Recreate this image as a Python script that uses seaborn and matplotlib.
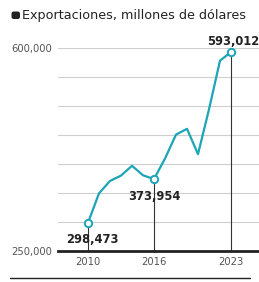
import matplotlib
matplotlib.use("Agg")
import matplotlib.pyplot as plt
import seaborn as sns
import pandas as pd
from matplotlib.lines import Line2D
from matplotlib.patches import FancyBboxPatch

years = list(range(2010, 2024))
exports = [298473, 349433, 370770, 380015, 396912, 380550, 373954,
           409401, 450685, 460604, 416999, 494225, 578193, 593012]
highlight_years = [2010, 2016, 2023]
highlight_labels = ["298,473", "373,954", "593,012"]
ytick_vals = [250000, 600000]
ytick_labels = ["250,000", "600,000"]
grid_vals = [300000, 350000, 400000, 450000, 500000, 550000, 600000]
title = "Exportaciones, millones de dólares"

df = pd.DataFrame({"year": years, "value": exports})
teal = "#1ba5b6"

sns.set_theme(style="white")
plt.rcParams['font.family'] = ['DejaVu Sans']

fig = plt.figure(figsize=(2.59, 2.82), dpi=100)
ax = fig.add_axes([58/259, 31/282, 201/259, 203/282])

for g in grid_vals:
    ax.axhline(g, color="#cfcfcf", lw=0.8, zorder=0)

sns.lineplot(data=df, x="year", y="value", ax=ax, color=teal, lw=1.6, zorder=3)

hv = [exports[years.index(y)] for y in highlight_years]
for y, v in zip(highlight_years, hv):
    ax.plot([y, y], [250000, v], color="#333333", lw=0.8, zorder=2, clip_on=False)
ax.scatter(highlight_years, hv, s=28, facecolor="white", edgecolor=teal,
           linewidth=1.4, zorder=4, clip_on=False)

offsets = [(0.4, -28000, "center"), (0.0, -30000, "center"), (0.2, 19000, "center")]
for (y, v, lab), (dx, dy, ha) in zip(zip(highlight_years, hv, highlight_labels), offsets):
    ax.text(y + dx, v + dy, lab, ha=ha, va="center", fontsize=8.3,
            fontweight="bold", color="#222222", zorder=5)

ax.set_xlim(2010 - 30/11, 2023 + 28/11)
ax.set_ylim(250000, 600000)
ax.set_xticks(highlight_years)
ax.set_xticklabels([str(y) for y in highlight_years])
ax.set_yticks(ytick_vals)
ax.set_yticklabels(ytick_labels)
ax.tick_params(axis="both", length=0, labelsize=7.2, labelcolor="#555555")
ax.tick_params(axis="x", pad=4)
ax.tick_params(axis="y", pad=4)
ax.set_xlabel("")
ax.set_ylabel("")
for s in ["top", "right", "left"]:
    ax.spines[s].set_visible(False)
ax.spines["bottom"].set_color("#222222")
ax.spines["bottom"].set_linewidth(2)

fig.text(22/259, 1 - 15/282, title, fontsize=9.2, color="#222222", va="center", ha="left")
fig.patches.append(FancyBboxPatch((11.5/259, 1 - 19/282), 8.5/259, 7.5/282,
                                  boxstyle="round,pad=0,rounding_size=0.008",
                                  transform=fig.transFigure, facecolor="#222222",
                                  edgecolor="none"))
fig.lines.append(Line2D([10/259, 250/259], [4/282, 4/282], transform=fig.transFigure,
                        color="#222222", lw=1.0))

fig.savefig("out.png", dpi=100)
